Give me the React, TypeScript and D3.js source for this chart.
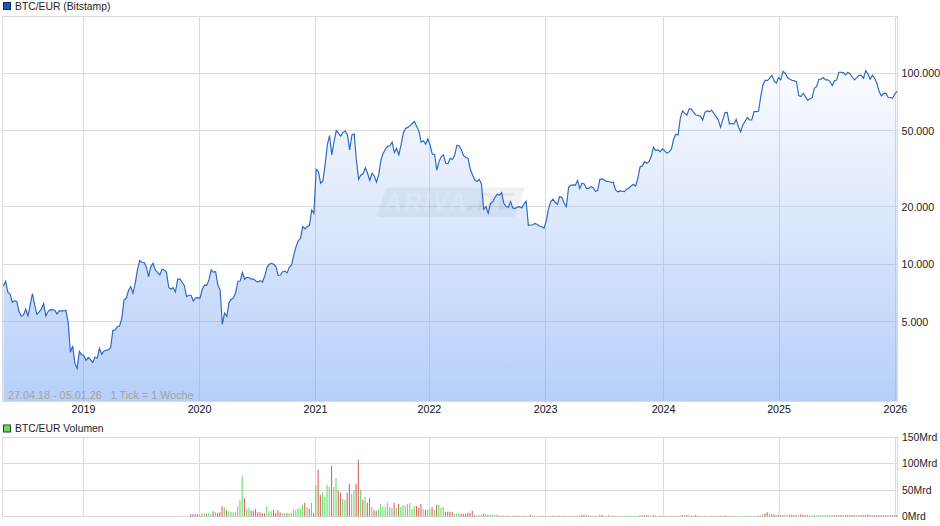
import * as d3 from "d3";

// weekly closes in EUR
const closesPart1 = [
  7720, 8165, 7155, 6985, 6340, 6470, 6390, 5665, 5355, 5440, 5830, 5380, 6140, 7045, 6140, 5485, 5650, 5850, 6240,
  5380, 5665, 5800, 5780, 5755, 5510, 5710, 5710, 5710, 5755, 4975, 3467, 3745, 3035, 2857, 3510, 3370, 3340, 3145,
  3265, 3175, 3070, 3265, 3235, 3640, 3385, 3525, 3555, 3570, 3670, 4520, 4540, 4725, 4765, 5225, 6525, 6650, 7305,
  7660, 7070, 7970, 9365, 10475, 10265, 10225, 9705, 8605, 9745, 10144, 9365, 9090, 8815, 9440, 9365, 9090, 7595,
  7415, 7570, 7155, 8375, 8410, 8065, 7740, 6790, 6900, 6900, 6430, 6680, 6705, 6655, 7415, 7800, 7770, 8300, 9365,
  9125, 9160, 7800, 7365, 4860, 5575, 5340, 6320, 6580, 6680, 7155, 8165, 8195, 9070, 8375, 8570, 8535, 8375, 8375,
  8195, 8090, 8230, 8090, 8710, 9665, 10020, 10144, 10020, 9745, 8775, 8810, 9160, 9235, 9030, 9665, 9940, 11215,
  12400, 13325, 13680, 15790, 15350, 15790, 15980, 19293,
];
const closesPart2 = [
  18540, 31510, 30640, 26620, 27380, 33190, 42230, 47270, 37440, 43950, 50210, 48620, 47080, 49170, 49900, 47680,
  39770, 47680, 48230, 35250, 27920, 29420, 29840, 32100, 30030, 27530, 30030, 29070, 26950, 29420, 35250, 38200,
  40100, 41520, 41850, 43700, 38500, 40500, 37440, 42230, 48620, 51560, 52200, 53210, 54710, 56050, 52680, 49900,
  43700, 44400, 42570, 45420, 42230, 37740, 37740, 31130, 34540, 36700, 37440, 33850, 33720, 35950, 35480, 37440,
  42060, 41880, 39770, 37140, 36300, 35950, 31500, 29420, 27700, 27170, 27920, 26300, 19450, 20090, 18540, 20850,
  21240, 22400, 23310, 23000, 23780, 20910, 20090, 19930, 21340, 19770, 19620, 19930, 20090, 19770, 20680, 21420,
  16030, 16090, 16150, 16400, 16200, 15880, 15760, 15500, 16920, 19530, 21340, 21990, 21100, 20680, 22660, 22400,
  20910, 20090, 25370, 25970, 26090, 25970, 27570, 25000, 26620, 26400, 25000, 25000, 25570, 25250, 24170, 24390,
  27920, 28050, 27700, 27170, 27170, 26860, 26950, 24560, 24000,
];
const closesPart3 = [
  24260, 24170, 24060, 24800, 25090, 25770, 26300, 25770, 28260, 32540, 32800, 34540, 33870, 34540, 36700, 41100,
  39440, 39770, 38970, 40250, 39280, 38200, 38850, 40100, 45230, 48080, 47650, 58230, 63630, 61860, 60620, 65390,
  64900, 62340, 60620, 60120, 59850, 57090, 62600, 63630, 63110, 64150, 61860, 59430, 57090, 52240, 57090, 62340,
  62600, 54400, 54840, 54400, 57580, 52680, 49500, 53730, 56230, 58760, 57090, 57090, 63110, 63110, 63370, 75660,
  87100, 92140, 91770, 94390, 97780, 91040, 88860, 95150, 92510, 102660, 100250, 95150, 93290, 92140, 91400, 90660,
  76560, 75660, 78770, 75660, 72360, 73500, 74800, 83660, 85360, 93290, 93290, 95150, 92510, 92510, 90660, 86390,
  91400, 92510, 101430, 101430, 101000, 98210, 101430, 99450, 95500, 92510, 95150, 97780, 97780, 94390, 103500,
  99450, 93290, 97780, 94390, 88860, 80330, 76200, 78450, 78770, 75000, 74800, 74150, 78100, 80600,
];
const closes = [...closesPart1, ...closesPart2, ...closesPart3];

const priceTicks = [100000, 50000, 20000, 10000, 5000];
const yearLabels = ["2019", "2020", "2021", "2022", "2023", "2024", "2025", "2026"];
const yearWeeks = [35.86, 87.8, 139.7, 190.7, 242.7, 295.5, 347.2, 399.3];

// volume in Mrd, first bar is week 84
const firstVolumeWeek = 84;
const volumes2020 = [
  4.4, 4.4, 4.4, 4.4, 2.5, 6.3, 6.3, 4.4, 6.3, 4.4, 10, 8, 7, 8, 19.6, 17.7, 12, 10, 9, 8, 8, 19.6, 31, 76.6, 34.8,
  13.9, 15.8, 11.4, 10, 13.9, 8, 8, 6.3, 6.3, 19.6, 10, 10, 12, 7, 12, 8, 6.3, 6.3, 6.3, 6.3, 6.3, 12, 12, 15.8,
];
const volumes2021 = [
  14.6, 22, 26, 18, 14.6, 26, 7, 60, 88.6, 41, 45, 37, 60, 56, 96, 56, 73, 49, 45, 33.5, 31.6, 45, 62, 43, 49, 62,
  107.6, 50.6, 31.6, 37, 26, 35, 18, 12.7, 10.8, 12.7, 24, 18, 18, 26, 18, 16.5, 26, 16.5, 24, 18, 22, 20, 24, 26,
  14.6, 20, 20, 16.5, 24, 14.6, 12.7, 12.7, 14.6, 18, 12.7, 22, 22, 16.5, 18, 9, 9, 9, 9, 5, 5, 7, 5, 5, 5, 7, 7,
  10.8, 3.2, 1.3, 3.2, 3.2, 5, 5, 3.2, 3.2, 3.2, 3.2, 3.2, 1.3,
];
const volumes2023 = [
  1.5, 1.5, 1.3, 1.3, 1.3, 1.3, 1.3, 1.3, 1.3, 1.3, 1.3, 1.3, 1.3, 3.2, 1.3, 1.3, 1.3, 1.3, 1.3, 1.3, 1.3, 1.3, 1.3,
  1.3, 1.3, 1.3, 1.3, 1.3, 1.3, 1.3, 1.3, 1.3, 1.3, 1.3, 1.3, 1.3, 3.2, 3, 3, 3, 1.3, 1.3, 1.3, 1.3, 3, 3, 1.3, 1.3,
  3, 1.3, 1.3, 1.3, 1.3, 1.3,
];
const volumes2024 = [
  1.3, 1.3, 1.3, 1.3, 1.3, 1.3, 1.3, 1.3, 2.5, 2.5, 2.5, 2.5, 2.5, 1.3, 2.5, 2.5, 1.3, 1.3, 1.3, 1.3, 1.3, 1.3, 1.3,
  1.3, 1.3, 1.3, 1.3, 2.5, 2.5, 2.5, 2.5, 1.3, 1.3, 3, 1.3, 1.3, 1.3, 1.3, 1.3, 1.3, 1.3, 1.3, 1.3, 1.3, 1.3, 1.3,
  2.5, 1.3, 1.3, 1.3, 2, 1.3, 1.3, 1.3, 1.3, 1.3, 1.3, 1.3, 1.3, 1.3, 1.3, 2, 1.3, 4.4, 5.7, 8.2, 5, 3.8, 3.8, 3,
  2.5, 2.5, 2.5, 4, 2.5, 2.5, 3.5, 2.5, 2.5, 2.5, 4, 3.5, 2.5, 2.5, 2, 2.5, 3.5, 2.5, 2.5, 2.5, 2.5, 2.5, 2.5, 2.5,
  2.5, 2.5, 2.5, 2.5, 2.5, 2.5, 2.5, 2.5, 2.5, 2.5, 2.5, 2.5, 2.5, 2.5, 2.5, 2.5, 4, 2.5, 2.5, 2.5, 2.5, 2.5, 2.5,
  2.5, 2.5, 2.5, 2.5, 2.5, 2.5, 2.5,
];
const volumes = [...volumes2020, ...volumes2021, ...volumes2023, ...volumes2024];

// g = up week, r = down week, same order as the volumes
const sides2020 = ["rrrrr", "ggrgg", "rgrrr", "grggg", "ggggr", "ggrrr", "rrrrg", "ggrrr", "rggrg", "gggg"];
const sides2021 = [
  "ggrgr", "grgrr", "ggggr", "ggrrg", "grrgg", "rrgrg", "rrgrr", "ggggg", "ggrgr",
  "ggggg", "ggrrr", "grggr", "grggg", "rrrrg", "ggrrr", "rrrrr", "ggrgr", "ggggr",
];
const sides2023 = ["rrrrggrrrr", "rrgrrgggrr", "ggrrrgrrrr", "ggggrrrrgg", "rrgggrrggr", "rggg"];
const sides2024 = [
  "gggggggggg", "rrggrggrrr", "ggrgggrrgr", "grrrrggrgg", "rgggrggrrg", "ggggggrggg",
  "grrgrrgrrg", "rrrggrrrrg", "rrrrgggggg", "gggggrrrrg", "rrrrrgrrrr", "rrrrrrrrrr", "rrrr",
];
const volumeSides = [...sides2020, ...sides2021, ...sides2023, ...sides2024].join("").split("");

const volumeTicks = [150, 100, 50, 0];

const width = 940;
const height = 526;
const left = 2.5;
const right = 897.5;

const x = d3.scaleLinear().domain([0, closes.length - 1]).range([3.4, 897]);
const y = d3.scaleLog().domain([1928, 198700]).range([401, 16.5]);
const yVol = d3.scaleLinear().domain([0, 150]).range([516.5, 437.5]);

const de = d3.formatLocale({ decimal: ",", thousands: ".", grouping: [3], currency: ["", ""] });
const fmt = de.format(",");

const line = d3
  .line<number>()
  .x((_, i) => x(i))
  .y((d) => y(d));
const area = d3
  .area<number>()
  .x((_, i) => x(i))
  .y0(401)
  .y1((d) => y(d));

const grid = "#dcdcdc";
const snap = (v: number) => Math.floor(v) + 0.5;

export default function App() {
  return (
    <svg
      width={width}
      height={height}
      style={{ position: "absolute", left: 0, top: 0, display: "block" }}
      fontFamily="'Liberation Sans', Arial, sans-serif"
      fontSize={10.7}
    >
      <defs>
        <linearGradient id="fade" gradientUnits="userSpaceOnUse" x1={0} x2={0} y1={50} y2={401}>
          <stop offset="0" stopColor="#7aa7f5" stopOpacity={0} />
          <stop offset="1" stopColor="#7aa7f5" stopOpacity={0.55} />
        </linearGradient>
      </defs>
      <rect width={width} height={height} fill="#fff" />

      {/* price panel */}
      <rect x={3.5} y={2.5} width={7} height={7} fill="#1a56b8" stroke="#12305f" />
      <text x={15} y={10} fill="#222" fontSize={10.35}>BTC/EUR (Bitstamp)</text>

      <rect x={left} y={16.5} width={right - left} height={385} fill="none" stroke={grid} />
      {priceTicks.map((t) => (
        <g key={t}>
          <line x1={left} x2={right} y1={snap(y(t))} y2={snap(y(t))} stroke={grid} />
          <text x={901.5} y={y(t) + 3.6} fill="#222">{fmt(t)}</text>
        </g>
      ))}
      {yearWeeks.map((w, i) => (
        <g key={yearLabels[i]}>
          <line x1={snap(x(w))} x2={snap(x(w))} y1={16.5} y2={401} stroke={grid} />
          <text x={x(w)} y={413} textAnchor="middle" fill="#111">{yearLabels[i]}</text>
        </g>
      ))}

      {/* watermark */}
      <g>
        <path
          d="M389 187.5H525L514 217H382Q376 217 378 212L385 191Q386 187.5 389 187.5Z"
          fill="#7c8aa0"
          opacity={0.12}
        />
        <text x={385} y={210} fontSize={23} fontStyle="italic" fontWeight="bold" fill="#fff" opacity={0.55} textLength={81}>
          ARIVA
        </text>
        <text x={467} y={210} fontSize={23} fontStyle="italic" fontWeight="bold" fill="#7c8aa0" opacity={0.1} textLength={46}>
          .DE
        </text>
      </g>

      <path d={area(closes) ?? ""} fill="url(#fade)" />
      <path d={line(closes) ?? ""} fill="none" stroke="#2a66c4" strokeWidth={1.15} />
      <text x={8} y={399} fill="#a3a3a3" fontSize={10.8} xmlSpace="preserve">27.04.18 - 05.01.26   1 Tick = 1 Woche</text>

      {/* volume panel */}
      <rect x={3.5} y={425} width={7} height={7} fill="#66d966" stroke="#1f4d1f" />
      <text x={15} y={432} fill="#222" fontSize={10.35}>BTC/EUR Volumen</text>

      <rect x={left} y={437.5} width={right - left} height={79} fill="none" stroke={grid} />
      {volumeTicks.map((t) => (
        <g key={t}>
          <line x1={left} x2={right} y1={snap(yVol(t))} y2={snap(yVol(t))} stroke={grid} />
          <text x={902} y={yVol(t) + 3.5} fill="#222" fontSize={10.4}>{`${t}Mrd`}</text>
        </g>
      ))}
      {yearWeeks.map((w, i) => (
        <line key={yearLabels[i]} x1={snap(x(w))} x2={snap(x(w))} y1={437.5} y2={516.5} stroke={grid} />
      ))}
      {volumes.map((v, i) => (
        <rect
          key={i}
          x={x(firstVolumeWeek + i) - 0.8}
          y={yVol(v)}
          width={1.1}
          height={yVol(0) - yVol(v)}
          fill={volumeSides[i] === "r" ? "#df6464" : "#68dc68"}
        />
      ))}
    </svg>
  );
}
